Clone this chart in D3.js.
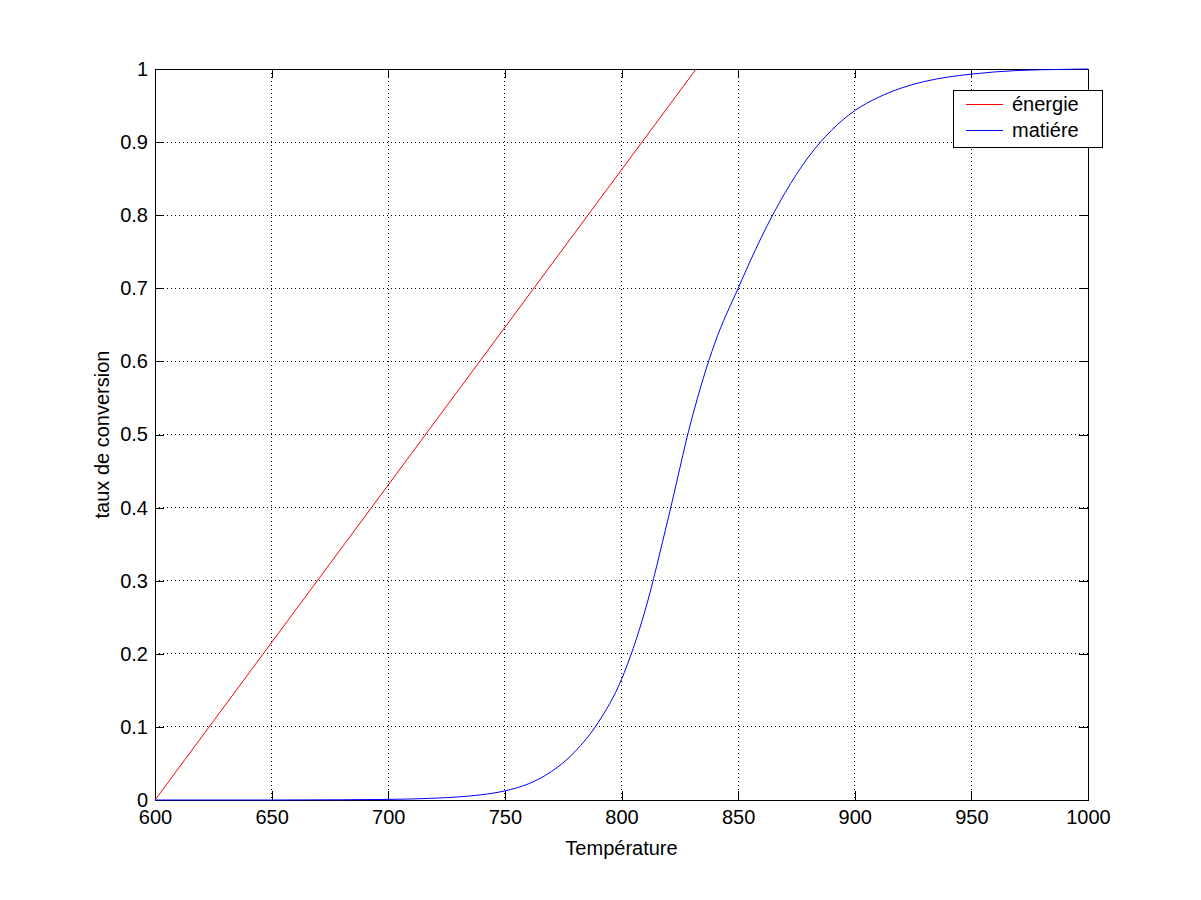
<!DOCTYPE html>
<html lang="fr">
<head>
<meta charset="UTF-8">
<title>taux de conversion</title>
<style>
  body { margin: 0; background: #fff; }
  svg text { font-family: "Liberation Sans", Arial, sans-serif; font-size: 20px; fill: #000; }
</style>
</head>
<body>
<script src="https://cdn.jsdelivr.net/npm/d3@7"></script>
<script>
// data
var tempEnergie = [600, 832];
var energie = [0, 1];

var temperature = [600, 650, 680, 700, 710, 720, 730, 740, 750, 760, 770, 780, 790, 800, 810, 820, 830, 840,
    850, 860, 870, 880, 890, 900, 910, 920, 930, 940, 950, 960, 970, 980, 990, 1000];
var matiere = [0, 0, 0.0003, 0.0008, 0.0014, 0.0025, 0.0042, 0.0072, 0.0125, 0.022, 0.039, 0.066, 0.106, 0.165, 0.258, 0.385, 0.52, 0.625,
    0.70, 0.77, 0.83, 0.879, 0.916, 0.943, 0.961, 0.974, 0.983, 0.989, 0.993, 0.996, 0.998, 0.999, 0.9995, 1.0];

var xTicks = [600, 650, 700, 750, 800, 850, 900, 950, 1000];
var yTicks = [0, 0.1, 0.2, 0.3, 0.4, 0.5, 0.6, 0.7, 0.8, 0.9, 1];
var seriesNames = ["énergie", "matiére"];
var seriesColors = ["#ff0000", "#0000ff"];

var W = 1201, H = 900;
var margin = { top: 69, right: 113, bottom: 100, left: 155 },
    width = W - margin.left - margin.right,
    height = H - margin.top - margin.bottom;

var svg = d3.select("body").append("svg")
    .attr("width", W)
    .attr("height", H);

var g = svg.append("g")
    .attr("transform", "translate(" + margin.left + "," + margin.top + ")");

var x = d3.scaleLinear().domain([600, 1000]).range([0, width]);
var y = d3.scaleLinear().domain([0, 1]).range([height, 0]);

// grid (dotted)
g.append("g").selectAll("line").data(xTicks.slice(1, -1)).enter().append("line")
    .attr("x1", function (d) { return x(d); }).attr("x2", function (d) { return x(d); })
    .attr("y1", 0).attr("y2", height)
    .style("stroke", "#000").style("stroke-width", 1).style("stroke-dasharray", "1,3")
    .style("shape-rendering", "crispEdges");
g.append("g").selectAll("line").data(yTicks.slice(1, -1)).enter().append("line")
    .attr("y1", function (d) { return y(d); }).attr("y2", function (d) { return y(d); })
    .attr("x1", 0).attr("x2", width)
    .style("stroke", "#000").style("stroke-width", 1).style("stroke-dasharray", "1,3")
    .style("shape-rendering", "crispEdges");

// axes, ticks pointing inward
var xAxis = d3.axisBottom(x).tickValues(xTicks).tickSize(-9).tickPadding(10).tickFormat(d3.format("d"));
var yAxis = d3.axisLeft(y).tickValues(yTicks).tickSize(-9).tickPadding(7).tickFormat(function (d) { return d3.format("")(+d.toFixed(1)); });

g.append("g").attr("class", "axis")
    .attr("transform", "translate(0," + height + ")")
    .call(xAxis);
g.append("g").attr("class", "axis")
    .call(yAxis);
g.append("g").attr("class", "axis")
    .call(d3.axisTop(x).tickValues(xTicks).tickSize(-9).tickFormat(""));
g.append("g").attr("class", "axis")
    .attr("transform", "translate(" + width + ",0)")
    .call(d3.axisRight(y).tickValues(yTicks).tickSize(-9).tickFormat(""));

g.selectAll(".axis path").style("stroke", "#000").style("fill", "none").style("shape-rendering", "crispEdges");
g.selectAll(".axis line").style("stroke", "#000").style("shape-rendering", "crispEdges");
g.selectAll(".axis text").style("font-family", "'Liberation Sans', Arial, sans-serif").style("font-size", "20px").style("fill", "#000");

// curves
var line = d3.line()
    .x(function (d) { return x(d[0]); })
    .y(function (d) { return y(d[1]); });

g.append("path")
    .datum(d3.zip(tempEnergie, energie))
    .attr("d", line)
    .style("fill", "none").style("stroke", seriesColors[0]).style("stroke-width", 1);

g.append("path")
    .datum(d3.zip(temperature, matiere))
    .attr("d", line.curve(d3.curveMonotoneX))
    .style("fill", "none").style("stroke", seriesColors[1]).style("stroke-width", 1);

// axis titles
svg.append("text")
    .attr("x", margin.left + width / 2).attr("y", 855)
    .attr("text-anchor", "middle")
    .text("Température");
svg.append("text")
    .attr("transform", "translate(109," + (margin.top + height / 2) + ") rotate(-90)")
    .attr("text-anchor", "middle")
    .text("taux de conversion");

// legend
var legend = svg.append("g").attr("transform", "translate(953,90)");
legend.append("rect")
    .attr("x", 0.5).attr("y", 0.5).attr("width", 149).attr("height", 57)
    .style("fill", "#fff").style("stroke", "#000").style("stroke-width", 1);
var items = legend.selectAll(".item").data(seriesNames).enter().append("g")
    .attr("transform", function (d, i) { return "translate(0," + (14 + i * 26) + ")"; });
items.append("line")
    .attr("x1", 13).attr("x2", 50).attr("y1", 0.5).attr("y2", 0.5)
    .style("stroke", function (d, i) { return seriesColors[i]; });
items.append("text")
    .attr("x", 59).attr("y", 7)
    .text(function (d) { return d; });
</script>
</body>
</html>
